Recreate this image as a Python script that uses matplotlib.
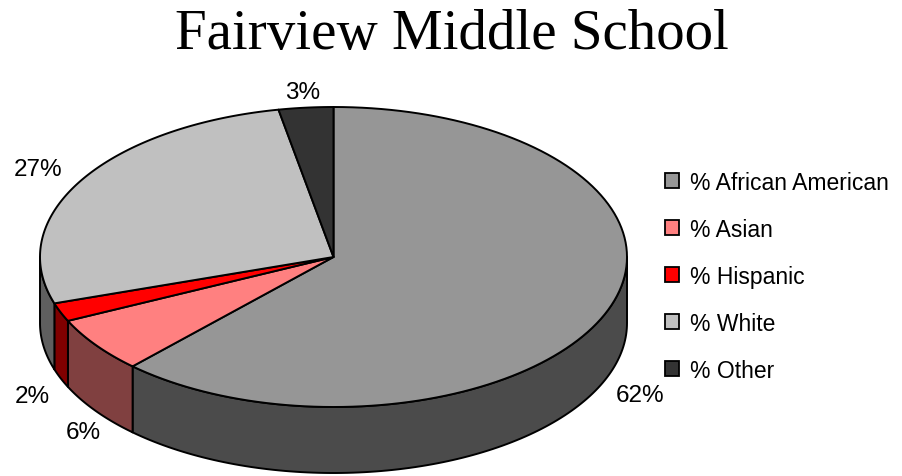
import numpy as np
import matplotlib.pyplot as plt
from matplotlib.patches import Polygon, Patch

# data
groups = ['% African American', '% Asian', '% Hispanic', '% White', '% Other']
shares = [62, 6, 2, 27, 3]
pct_labels = ['62%', '6%', '2%', '27%', '3%']

top_colors = ['#969696', '#ff8080', '#ff0000', '#c0c0c0', '#333333']
side_colors = ['#4b4b4b', '#804040', '#800000', '#5f5f5f', '#1a1a1a']

# pie geometry (pixel space)
cx, cy = 333.5, 258.0
rx, ry = 293.5, 150.0
depth = 66.0

# where excel dropped the percent labels
label_xy = [(640, 396), (83, 433), (32, 397), (38, 170), (303, 93)]


def rim(t0, t1, dy=0.0, n=120):
    t = np.radians(np.linspace(t0, t1, n))
    return np.column_stack([cx + rx * np.sin(t), cy - ry * np.cos(t) + dy])


fig = plt.figure(figsize=(9.03, 4.77), dpi=100)
ax = fig.add_axes([0, 0, 1, 1])
ax.set_xlim(0, 903)
ax.set_ylim(477, 0)
ax.axis('off')

edges = np.concatenate([[0], np.cumsum(shares)]) / sum(shares) * 360.0
lw = 1.4

# side walls (only the front half shows)
for i in range(len(shares)):
    a0, a1 = max(edges[i], 90), min(edges[i + 1], 270)
    if a1 <= a0:
        continue
    top = rim(a0, a1)
    bot = rim(a1, a0, dy=depth)
    ax.add_patch(Polygon(np.vstack([top, bot]), closed=True,
                         facecolor=side_colors[i], edgecolor='black',
                         linewidth=lw, joinstyle='round', zorder=1))

# top face wedges
for i in range(len(shares)):
    arc = rim(edges[i], edges[i + 1])
    pts = np.vstack([[cx, cy], arc])
    ax.add_patch(Polygon(pts, closed=True, facecolor=top_colors[i],
                         edgecolor='black', linewidth=lw,
                         joinstyle='round', zorder=2))

for lab, (x, y) in zip(pct_labels, label_xy):
    ax.text(x, y, lab, ha='center', va='center', fontsize=17.5,
            family='Liberation Sans', zorder=3)

ax.text(452, 35, 'Fairview Middle School', ha='center', va='center',
        fontsize=41, family='Liberation Serif')

handles = [Patch(facecolor=c, edgecolor='black', linewidth=1.3) for c in top_colors]
leg = ax.legend(handles, groups, loc='center left', bbox_to_anchor=(0.7135, 0.419),
                frameon=False, handlelength=0.6, handleheight=0.6,
                handletextpad=0.5, labelspacing=1.05,
                prop={'family': 'Liberation Sans', 'size': 16.5})

fig.savefig('out.png', dpi=100)
